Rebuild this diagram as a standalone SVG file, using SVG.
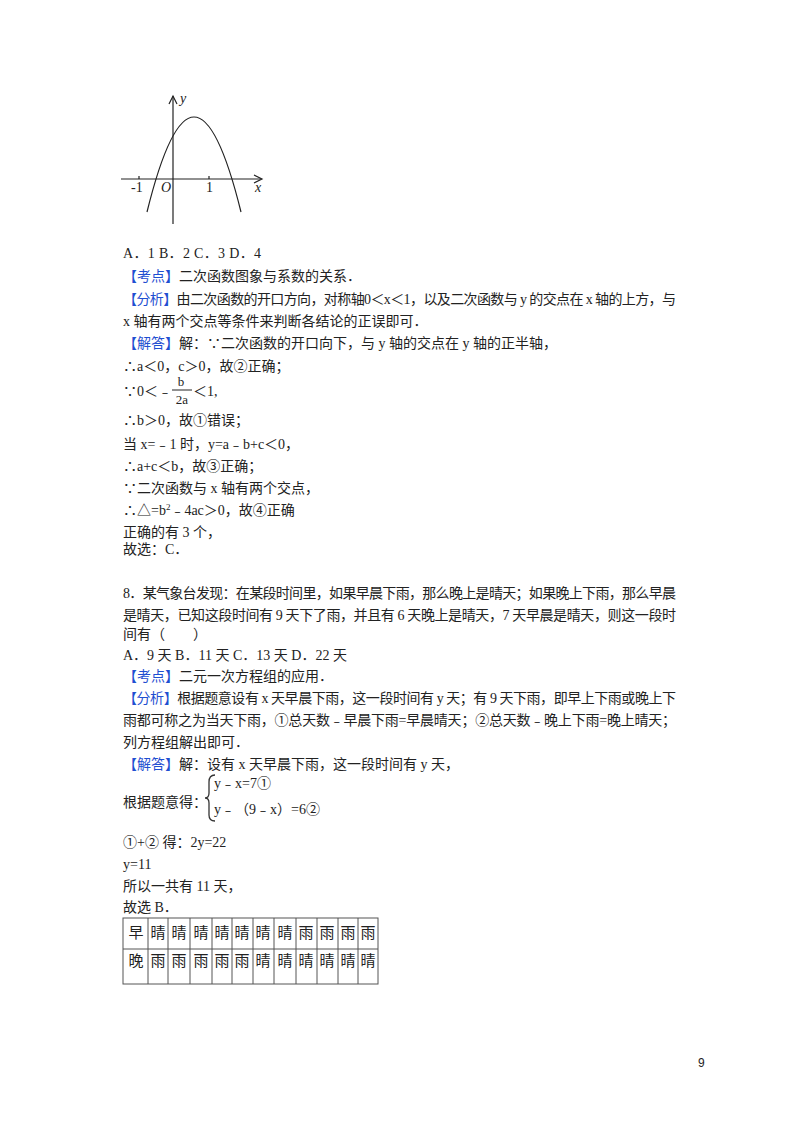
<svg xmlns="http://www.w3.org/2000/svg" width="800" height="1132" viewBox="0 0 800 1132">
<style>
text{font-family:"Liberation Serif","Noto Sans CJK SC",serif;font-size:14px;fill:#222}
.b{fill:#1f4fd1}
.g{stroke:#222;fill:none;stroke-width:1.2}
.t{stroke:#555;fill:none;stroke-width:1}
.tc{font-size:15px;text-anchor:middle}
</style>
<rect width="800" height="1132" fill="#fff"/>
<g id="graph">
<line class="g" x1="121" y1="179" x2="261" y2="179"/>
<path class="g" d="M254 175 L262 179 L254 183"/>
<line class="g" x1="173" y1="224" x2="173" y2="96"/>
<path class="g" d="M169 104 L173 96 L177 104"/>
<line class="g" x1="139" y1="176" x2="139" y2="179"/>
<line class="g" x1="209" y1="176" x2="209" y2="179"/>
<path class="g" d="M147 212 Q194 22 241 212"/>
<text x="180" y="103" style="font-style:italic">y</text>
<text x="255" y="192" style="font-style:italic">x</text>
<text x="131" y="192">-1</text>
<text x="161" y="192" style="font-style:italic">O</text>
<text x="206" y="192">1</text>
</g>
<g id="text1">
<text x="123" y="258" textLength="138">A．1 B．2 C．3 D．4</text>
<text x="123" y="281"><tspan class="b">【考点】</tspan>二次函数图象与系数的关系．</text>
<text x="123" y="304" textLength="553"><tspan class="b">【分析】</tspan>由二次函数的开口方向，对称轴0＜x＜1，以及二次函数与 y 的交点在 x 轴的上方，与</text>
<text x="123" y="326">x 轴有两个交点等条件来判断各结论的正误即可．</text>
<text x="123" y="348"><tspan class="b">【解答】</tspan>解：∵二次函数的开口向下，与 y 轴的交点在 y 轴的正半轴，</text>
<text x="123" y="371">∴a＜0，c＞0，故②正确；</text>
<text x="123" y="396">∵0＜﹣</text>
<text x="181" y="386" style="font-size:13px;text-anchor:middle">b</text>
<line x1="172" y1="390" x2="192" y2="390" stroke="#222"/>
<text x="182" y="404" style="font-size:13px;text-anchor:middle">2a</text>
<text x="193" y="396">＜1,</text>
<text x="123" y="425">∴b＞0，故①错误；</text>
<text x="123" y="449">当 x=﹣1 时，y=a﹣b+c＜0，</text>
<text x="123" y="471">∴a+c＜b，故③正确；</text>
<text x="123" y="493">∵二次函数与 x 轴有两个交点，</text>
<text x="123" y="515">∴△=b<tspan dy="-5" style="font-size:9px">2</tspan><tspan dy="5">﹣4ac＞0，故④正确</tspan></text>
<text x="123" y="537">正确的有 3 个，</text>
<text x="123" y="554">故选：C．</text>
</g>
<g id="text2">
<text x="123" y="598" textLength="553">8．某气象台发现：在某段时间里，如果早晨下雨，那么晚上是晴天；如果晚上下雨，那么早晨</text>
<text x="123" y="620" textLength="553">是晴天，已知这段时间有 9 天下了雨，并且有 6 天晚上是晴天，7 天早晨是晴天，则这一段时</text>
<text x="123" y="639">间有（　　）</text>
<text x="123" y="660">A．9 天 B．11 天 C．13 天 D．22 天</text>
<text x="123" y="681"><tspan class="b">【考点】</tspan>二元一次方程组的应用．</text>
<text x="123" y="703" textLength="553"><tspan class="b">【分析】</tspan>根据题意设有 x 天早晨下雨，这一段时间有 y 天；有 9 天下雨，即早上下雨或晚上下</text>
<text x="123" y="725" textLength="553">雨都可称之为当天下雨，①总天数﹣早晨下雨=早晨晴天；②总天数﹣晚上下雨=晚上晴天；</text>
<text x="123" y="747">列方程组解出即可．</text>
<text x="123" y="769"><tspan class="b">【解答】</tspan>解：设有 x 天早晨下雨，这一段时间有 y 天，</text>
<text x="123" y="807">根据题意得：</text>
<path d="M215 775 Q209 775 209 782 L209 793 Q209 798 205 798 Q209 798 209 803 L209 815 Q209 821 215 821" fill="none" stroke="#333" stroke-width="1.3"/>
<text x="214" y="788">y﹣x=7①</text>
<text x="214" y="814">y﹣（9﹣x）=6②</text>
<text x="123" y="847">①+② 得：2y=22</text>
<text x="123" y="869">y=11</text>
<text x="123" y="891">所以一共有 11 天，</text>
<text x="123" y="912">故选 B．</text>
</g>
<g id="table">
<rect class="t" x="123" y="918" width="255" height="66"/>
<line class="t" x1="123" y1="949" x2="378" y2="949"/>
<g class="t">
<line x1="148" y1="918" x2="148" y2="984"/><line x1="168" y1="918" x2="168" y2="984"/>
<line x1="190" y1="918" x2="190" y2="984"/><line x1="212" y1="918" x2="212" y2="984"/>
<line x1="232" y1="918" x2="232" y2="984"/><line x1="253" y1="918" x2="253" y2="984"/>
<line x1="274" y1="918" x2="274" y2="984"/><line x1="296" y1="918" x2="296" y2="984"/>
<line x1="317" y1="918" x2="317" y2="984"/><line x1="338" y1="918" x2="338" y2="984"/>
<line x1="358" y1="918" x2="358" y2="984"/>
</g>
<g class="tc">
<text class="tc" x="136" y="938">早</text><text class="tc" x="158" y="938">晴</text><text class="tc" x="179" y="938">晴</text><text class="tc" x="201" y="938">晴</text><text class="tc" x="222" y="938">晴</text><text class="tc" x="242" y="938">晴</text><text class="tc" x="263" y="938">晴</text><text class="tc" x="285" y="938">晴</text><text class="tc" x="306" y="938">雨</text><text class="tc" x="327" y="938">雨</text><text class="tc" x="348" y="938">雨</text><text class="tc" x="368" y="938">雨</text>
<text class="tc" x="136" y="966">晚</text><text class="tc" x="158" y="966">雨</text><text class="tc" x="179" y="966">雨</text><text class="tc" x="201" y="966">雨</text><text class="tc" x="222" y="966">雨</text><text class="tc" x="242" y="966">雨</text><text class="tc" x="263" y="966">晴</text><text class="tc" x="285" y="966">晴</text><text class="tc" x="306" y="966">晴</text><text class="tc" x="327" y="966">晴</text><text class="tc" x="348" y="966">晴</text><text class="tc" x="368" y="966">晴</text>
</g>
</g>
<text x="698" y="1067" style="font-family:'Liberation Sans',sans-serif;font-size:12px">9</text>
</svg>
